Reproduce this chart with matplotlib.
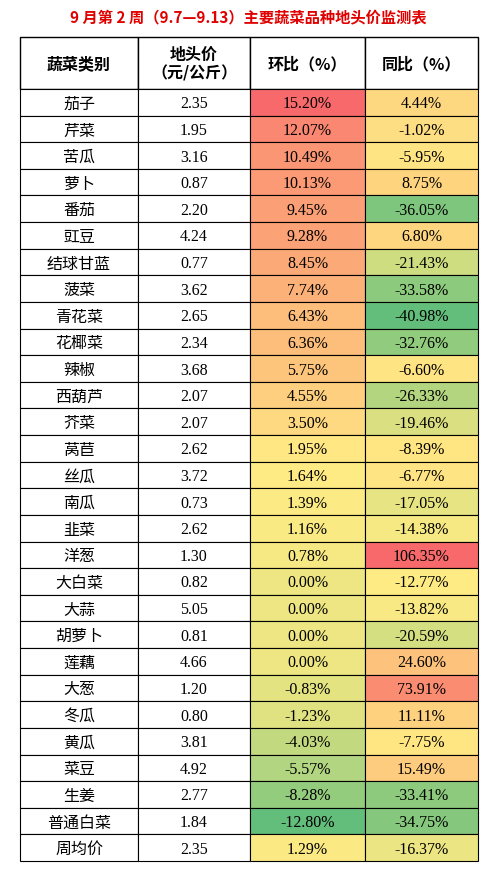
import numpy as np
import matplotlib.pyplot as plt
from matplotlib.colors import LinearSegmentedColormap, to_rgb
from matplotlib.patches import Rectangle

title = "9 月第 2 周（9.7—9.13）主要蔬菜品种地头价监测表"
headers = ["蔬菜类别", "地头价\n（元/公斤）", "环比（%）", "同比（%）"]
names = ["茄子", "芹菜", "苦瓜", "萝卜", "番茄", "豇豆", "结球甘蓝", "菠菜", "青花菜", "花椰菜",
         "辣椒", "西葫芦", "芥菜", "莴苣", "丝瓜", "南瓜", "韭菜", "洋葱", "大白菜", "大蒜",
         "胡萝卜", "莲藕", "大葱", "冬瓜", "黄瓜", "菜豆", "生姜", "普通白菜", "周均价"]
price = [2.35, 1.95, 3.16, 0.87, 2.20, 4.24, 0.77, 3.62, 2.65, 2.34,
         3.68, 2.07, 2.07, 2.62, 3.72, 0.73, 2.62, 1.30, 0.82, 5.05,
         0.81, 4.66, 1.20, 0.80, 3.81, 4.92, 2.77, 1.84, 2.35]
mom = [15.20, 12.07, 10.49, 10.13, 9.45, 9.28, 8.45, 7.74, 6.43, 6.36,
       5.75, 4.55, 3.50, 1.95, 1.64, 1.39, 1.16, 0.78, 0.00, 0.00,
       0.00, 0.00, -0.83, -1.23, -4.03, -5.57, -8.28, -12.80, 1.29]
yoy = [4.44, -1.02, -5.95, 8.75, -36.05, 6.80, -21.43, -33.58, -40.98, -32.76,
       -6.60, -26.33, -19.46, -8.39, -6.77, -17.05, -14.38, 106.35, -12.77, -13.82,
       -20.59, 24.60, 73.91, 11.11, -7.75, 15.49, -33.41, -34.75, -16.37]

red, yel, grn = np.array(to_rgb("#F8696B")), np.array(to_rgb("#FFEB84")), np.array(to_rgb("#63BE7B"))

def scale_color(v, vals):
    lo, mid, hi = min(vals), np.percentile(vals, 50), max(vals)
    if v >= mid:
        t = (v - mid) / (hi - mid)
        return yel + (red - yel) * t
    t = (mid - v) / (mid - lo)
    return yel + (grn - yel) * t

cjk = ["Noto Sans CJK SC", "DejaVu Sans"]
num = ["Liberation Serif", "Noto Sans CJK SC"]

fig = plt.figure(figsize=(4.97, 8.70), dpi=100)
ax = fig.add_axes([0, 0, 1, 1])
ax.set_xlim(0, 497)
ax.set_ylim(870, 0)
ax.axis("off")

ax.text(248, 18, title, ha="center", va="center", color="#E00000",
        fontsize=11, fontweight="bold", family=cjk)

cols = [20, 138, 250, 365, 478]
top, head_h = 38, 52
row_h = (862 - top - head_h) / len(names)

for j, h in enumerate(headers):
    ax.add_patch(Rectangle((cols[j], top), cols[j+1] - cols[j], head_h,
                           facecolor="white", edgecolor="black", lw=1))
    ax.text((cols[j] + cols[j+1]) / 2, top + head_h / 2, h, ha="center", va="center",
            fontsize=11.5, fontweight="bold", family=cjk, linespacing=1.2)

for i in range(len(names)):
    y = top + head_h + i * row_h
    cells = [names[i], f"{price[i]:.2f}", f"{mom[i]:.2f}%", f"{yoy[i]:.2f}%"]
    fills = ["white", "white", scale_color(mom[i], mom), scale_color(yoy[i], yoy)]
    for j in range(4):
        ax.add_patch(Rectangle((cols[j], y), cols[j+1] - cols[j], row_h,
                               facecolor=fills[j], edgecolor="black", lw=0.8))
        ax.text((cols[j] + cols[j+1]) / 2, y + row_h / 2 + 1, cells[j], ha="center",
                va="center", fontsize=11.5, family=cjk if j == 0 else num)

fig.savefig("out.png", dpi=100)
